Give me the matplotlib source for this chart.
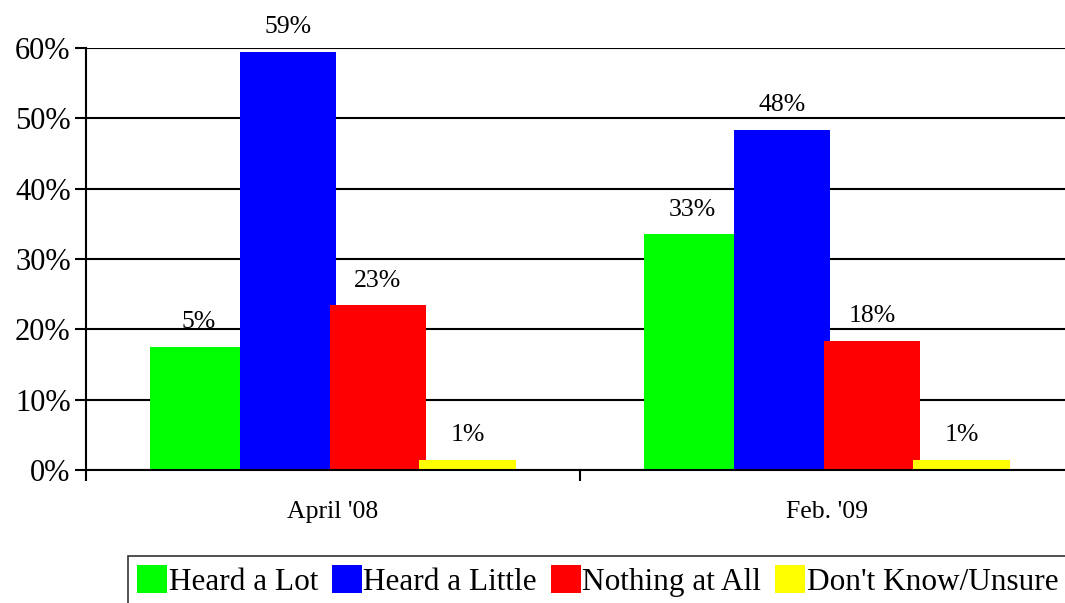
import matplotlib.pyplot as plt
import numpy as np

plt.rcParams['font.family'] = ['Liberation Serif', 'DejaVu Serif']

categories = ["April '08", "Feb. '09"]
series = ['Heard a Lot', 'Heard a Little', 'Nothing at All', "Don't Know/Unsure"]
colors = ['#00ff00', '#0000ff', '#ff0000', '#ffff00']
# bar heights as drawn, and the labels printed above them
values = [[17.5, 33.5],
          [59.5, 48.4],
          [23.4, 18.4],
          [1.4, 1.4]]
labels = [['5%', '33%'],
          ['59%', '48%'],
          ['23%', '18%'],
          ['1%', '1%']]
yticks = [0, 10, 20, 30, 40, 50, 60]

fig = plt.figure(figsize=(10.65, 6.03), dpi=100)
ax = fig.add_axes([86 / 1065, 1 - 470 / 603, 988 / 1065, 422 / 603])

x = np.arange(len(categories))
step = 0.182
width = 0.196
offsets = (np.arange(len(series)) - 1.5) * step

handles = []
for i, name in enumerate(series):
    bars = ax.bar(x + offsets[i], values[i], width, color=colors[i],
                  label=name, zorder=3 + i, linewidth=0)
    handles.append(bars)
    for j, b in enumerate(bars):
        ax.annotate(labels[i][j], (b.get_x() + b.get_width() / 2, b.get_height()),
                    xytext=(0, 13.5), textcoords='offset points',
                    ha='center', va='baseline', fontsize=18.5, zorder=10)

ax.set_xlim(-0.5, 1.5)
ax.set_ylim(0, 60)
ax.set_yticks(yticks)
ax.set_yticklabels([f'{t}%' for t in yticks], fontsize=22)
ax.yaxis.grid(True, color='black', linewidth=1.5, zorder=1)
ax.set_axisbelow(True)

ax.set_xticks(x)
ax.set_xticklabels(categories, fontsize=18.5)
ax.set_xticks([-0.5, 0.5, 1.5], minor=True)
ax.tick_params(axis='x', which='major', length=0, pad=22)
ax.tick_params(axis='x', which='minor', length=8, width=1.5, direction='out')
ax.tick_params(axis='y', length=8, width=1.5, direction='out', pad=3)

for s in ['top', 'right']:
    ax.spines[s].set_visible(False)
for s in ['left', 'bottom']:
    ax.spines[s].set_linewidth(1.5)
    ax.spines[s].set_zorder(8)

leg = fig.legend(handles=handles, loc='upper left',
                 bbox_to_anchor=(128 / 1065, 1 - 556 / 603),
                 ncol=4, fontsize=22.5, frameon=True, fancybox=False,
                 handlelength=0.95, handleheight=1.0, handletextpad=0.05,
                 columnspacing=0.45, borderpad=0.3, borderaxespad=0)
leg.get_frame().set_edgecolor('black')
leg.get_frame().set_linewidth(1.2)

fig.savefig('out.png', dpi=100)
